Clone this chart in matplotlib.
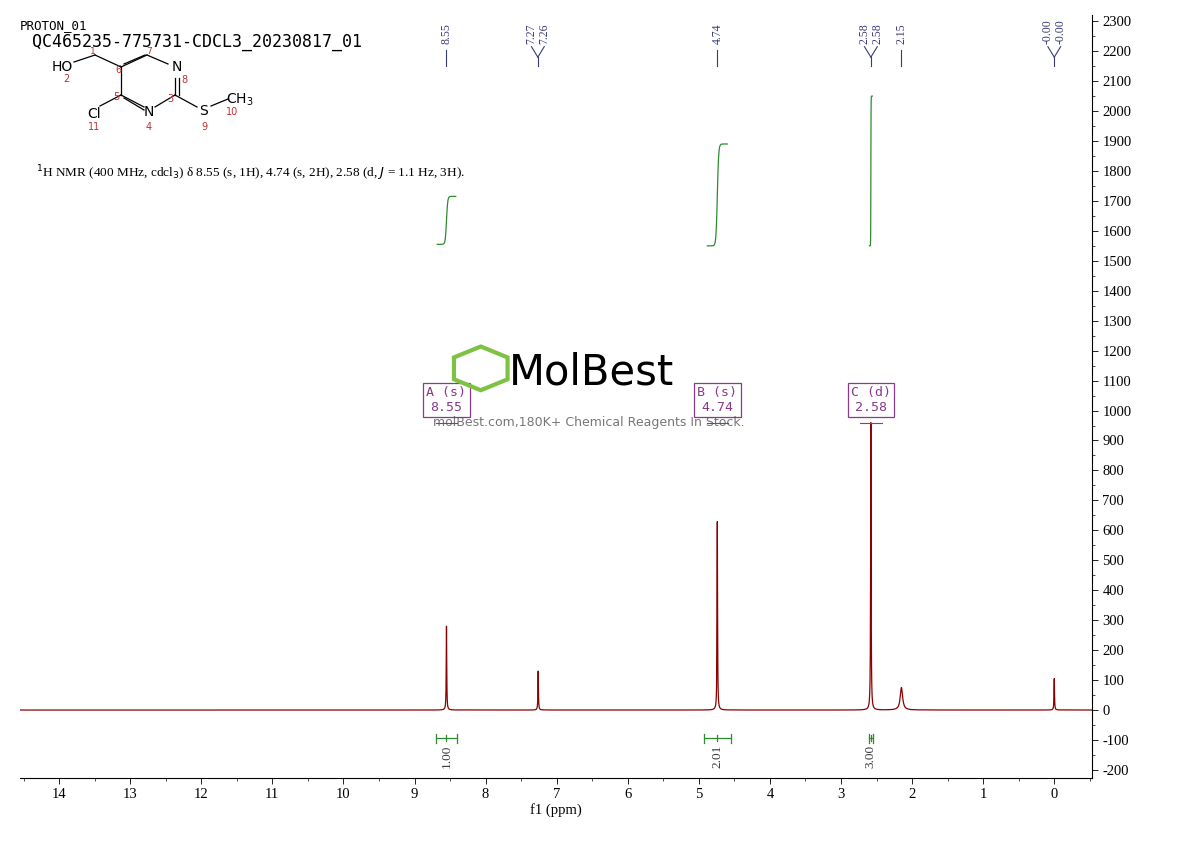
import numpy as np
import matplotlib
matplotlib.use("Agg")
import matplotlib.pyplot as plt

plt.rcParams['font.family'] = ['Liberation Serif']
plt.rcParams['axes.unicode_minus'] = False

# peaks: position (ppm), height, half-width (ppm)
peak_pos = [8.55, 7.26, 4.74, 2.58, 2.15, 0.00]
peak_h = [280, 130, 630, 960, 75, 105]
peak_w = [0.004, 0.004, 0.004, 0.004, 0.02, 0.004]

label_groups = [[8.55], [7.27, 7.26], [4.74], [2.58, 2.58], [2.15], [-0.00, -0.00]]
label_pos = [8.55, 7.265, 4.74, 2.58, 2.15, 0.00]

# integrals
int_start = [8.68, 4.88, 2.60]
int_end = [8.42, 4.60, 2.56]
int_y0 = [1555, 1550, 1550]
int_y1 = [1715, 1890, 2050]
int_val = ["1.00", "2.01", "3.00"]
int_center = [8.55, 4.74, 2.58]
bar_l = [8.70, 4.93, 2.61]
bar_r = [8.40, 4.55, 2.55]

box_labels = ["A (s)\n8.55", "B (s)\n4.74", "C (d)\n2.58"]
box_x = [8.55, 4.74, 2.58]

fig = plt.figure(figsize=(11.9, 8.41), dpi=100)
ax = fig.add_axes([0.0168, 0.0749, 0.9008, 0.907])

x = np.linspace(-0.53, 14.55, 30000)
y = np.zeros_like(x)
for p, h, w in zip(peak_pos, peak_h, peak_w):
    y += h / (1 + ((x - p) / w) ** 2)
ax.plot(x, y, color="#8b0000", lw=0.9)

ax.set_xlim(14.55, -0.53)
ax.set_ylim(-227, 2320)
for s in ["left", "top"]:
    ax.spines[s].set_visible(False)
ax.yaxis.tick_right()
ax.set_yticks(np.arange(-200, 2301, 100))
ax.set_xticks(np.arange(0, 15, 1))
ax.tick_params(axis="both", labelsize=10.5, direction="out", length=4, width=0.6)
ax.set_xticks(np.arange(-0.5, 14.6, 0.5), minor=True)
ax.set_yticks(np.arange(-200, 2301, 50), minor=True)
ax.tick_params(which="minor", length=2, width=0.5)
ax.set_xlabel("f1 (ppm)", fontsize=10.5, labelpad=1)

lc = "#3a3a7a"
for grp, c in zip(label_groups, label_pos):
    n = len(grp)
    ax.plot([c, c], [2150, 2205 if n == 1 else 2180], color=lc, lw=0.8)
    offs = [0] if n == 1 else [0.09, -0.09]
    for g, o in zip(grp, offs):
        if n > 1:
            ax.plot([c, c + o], [2180, 2215], color=lc, lw=0.8)
        ax.text(c + o, 2225, f"{g:.2f}" if g != 0 else "-0.00", rotation=90,
                ha="center", va="bottom", fontsize=8.5, color=lc)

for s, e, y0, y1, v, cc, bl, br in zip(int_start, int_end, int_y0, int_y1, int_val,
                                       int_center, bar_l, bar_r):
    xs = np.linspace(s, e, 80)
    t = (s - xs) / (s - e)
    ys = y0 + (y1 - y0) / (1 + np.exp(-(t - 0.5) * 30))
    ax.plot(xs, ys, color="#2e8b2e", lw=0.9)
    ax.plot([bl, br], [-95, -95], color="#2e8b2e", lw=0.9)
    ax.plot([bl, bl], [-110, -80], color="#2e8b2e", lw=0.9)
    ax.plot([br, br], [-110, -80], color="#2e8b2e", lw=0.9)
    ax.plot([cc, cc], [-105, -85], color="#2e8b2e", lw=0.9)
    ax.text(cc, -115, v, rotation=90, ha="center", va="top", fontsize=9.5, color="#3a3a3a")

for lab, bx in zip(box_labels, box_x):
    ax.text(bx, 1035, lab, ha="center", va="center", fontsize=9.5, color="#8a3a8a",
            family="DejaVu Sans Mono",
            bbox=dict(boxstyle="square,pad=0.25", fc="white", ec="#8a3a8a", lw=0.9))
    ax.plot([bx - 0.15, bx + 0.15], [960, 960], color="#8a3a8a", lw=0.8)

# watermark
fig.text(0.428, 0.557, "MolBest", fontsize=30, family="DejaVu Sans", color="black",
         ha="left", va="center")
fig.text(0.495, 0.494, "molBest.com,180K+ Chemical Reagents In Stock.", fontsize=9,
         family="DejaVu Sans", color="#555555", ha="center", alpha=0.8)
fig.patches.append(matplotlib.patches.RegularPolygon((0.404, 0.562), 6, radius=0.026,
                   transform=fig.transFigure, fill=False, ec="#7dc242", lw=3))

fig.text(0.017, 0.966, "PROTON_01", fontsize=9, family="DejaVu Sans Mono")
fig.text(0.027, 0.944, "QC465235-775731-CDCL3_20230817_01", fontsize=12, family="DejaVu Sans Mono")
fig.text(0.03, 0.789, r"$^{1}$H NMR (400 MHz, cdcl$_{3}$) δ 8.55 (s, 1H), 4.74 (s, 2H), 2.58 (d, $J$ = 1.1 Hz, 3H).",
         fontsize=9.5, family="Liberation Serif")

# structure (pixel coordinates in figure space)
def P(px, py):
    return (px / 1190, 1 - py / 841)
bonds = [((74, 62), (95, 55)), ((95, 55), (121, 67)), ((121, 67), (147, 55)), ((147, 55), (168, 64)),
         ((121, 67), (121, 95)), ((121, 95), (144, 107)), ((155, 107), (175, 95)), ((175, 95), (175, 78)),
         ((175, 95), (197, 107)), ((211, 106), (228, 99)), ((121, 95), (100, 106)),
         ((124, 64), (145, 55)), ((124, 98), (144, 110)), ((179, 95), (179, 78))]
for a, b in bonds:
    fig.add_artist(matplotlib.lines.Line2D([P(*a)[0], P(*b)[0]], [P(*a)[1], P(*b)[1]],
                   transform=fig.transFigure, color="black", lw=0.9))
for txt, px, py, col, fs in [("HO", 62, 67, "black", 10), ("N", 177, 67, "black", 10),
                             ("N", 149, 112, "black", 10), ("Cl", 94, 114, "black", 10),
                             ("S", 204, 111, "black", 10), (r"CH$_3$", 240, 100, "black", 10),
                             ("1", 93, 52, "#c03030", 6.5), ("7", 149, 52, "#c03030", 6.5),
                             ("6", 118, 70, "#c03030", 7), ("8", 184, 80, "#c03030", 7),
                             ("2", 66, 79, "#c03030", 7), ("5", 116, 97, "#c03030", 7),
                             ("3", 170, 99, "#c03030", 7), ("4", 149, 127, "#c03030", 7),
                             ("11", 94, 127, "#c03030", 7), ("9", 204, 127, "#c03030", 7),
                             ("10", 232, 112, "#c03030", 7)]:
    fig.text(*P(px, py), txt, color=col, fontsize=fs, family="DejaVu Sans", ha="center", va="center")

fig.savefig("out.png", dpi=100)
